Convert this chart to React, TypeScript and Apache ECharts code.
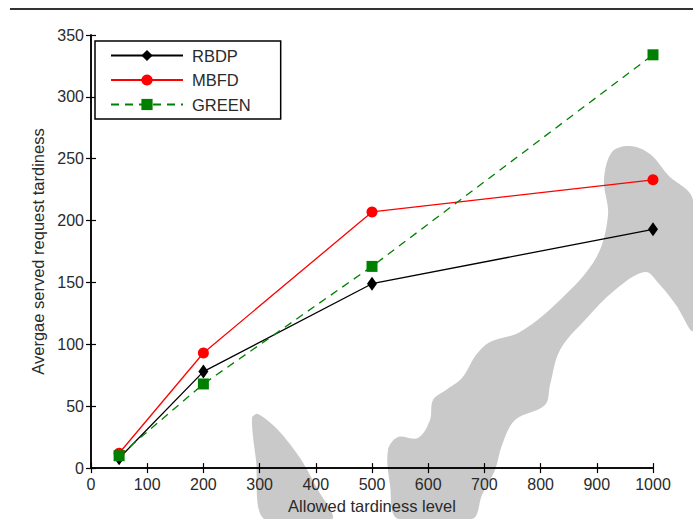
import React, { useEffect, useRef } from "react";
import * as echarts from "echarts";

const tardinessLevels = [50, 200, 500, 1000];
const rbdpValues = [8, 78, 149, 193];
const mbfdValues = [12, 93, 207, 233];
const greenValues = [10, 68, 163, 334];
const seriesNames = ["RBDP", "MBFD", "GREEN"];

const FONT = "'Liberation Sans', Arial, Helvetica, sans-serif";
const WM = "#c9c9c9";
const TXT = "#2a2a2a";

export default function App() {
  const ref = useRef<HTMLDivElement>(null);
  useEffect(() => {
    if (!ref.current) return;
    const chart = echarts.init(ref.current, undefined, { renderer: "svg" });
    const pts = (vals: number[]) => tardinessLevels.map((x, i) => [x, vals[i]]);
    const axisLine = { show: true, lineStyle: { color: "#000", width: 1.5 } };
    const tick = { show: true, inside: true, length: 5, lineStyle: { color: "#000", width: 1.2 } };
    const label = { color: TXT, fontSize: 16, fontFamily: FONT, formatter: (v: number) => String(v) };
    chart.setOption({
      animation: false,
      backgroundColor: "#fff",
      grid: { left: 91, right: 40, top: 35, bottom: 47, containLabel: false },
      xAxis: [
        {
          type: "value", min: 0, max: 1000, interval: 100,
          axisLine, axisTick: tick, splitLine: { show: false },
          axisLabel: { ...label, margin: 8 },
          name: "Allowed tardiness level", nameLocation: "middle", nameGap: 25,
          nameTextStyle: { color: TXT, fontSize: 16.5, fontFamily: FONT },
        },
        {
          type: "value", min: 0, max: 1000, interval: 100, position: "top",
          axisLine, axisTick: tick, splitLine: { show: false }, axisLabel: { show: false },
        },
      ],
      yAxis: [
        {
          type: "value", min: 0, max: 350, interval: 50,
          axisLine, axisTick: tick, splitLine: { show: false },
          axisLabel: { ...label, margin: 7 },
          name: "Avergae served request tardiness", nameLocation: "middle", nameGap: 41,
          nameTextStyle: { color: TXT, fontSize: 16.5, fontFamily: FONT },
        },
        {
          type: "value", min: 0, max: 350, interval: 50, position: "right",
          axisLine, axisTick: tick, splitLine: { show: false }, axisLabel: { show: false },
        },
      ],
      legend: {
        orient: "vertical", left: 95, top: 41, padding: [6, 30, 6, 15],
        itemGap: 7.5, itemWidth: 72, itemHeight: 14,
        borderColor: "#000", borderWidth: 1.5, backgroundColor: "#fff",
        textStyle: { fontSize: 16.5, color: TXT, fontFamily: FONT, padding: [0, 0, 0, 4] },
        data: seriesNames,
      },
      graphic: [
        { type: "line", z: -5, shape: { x1: 10, y1: 9, x2: 693, y2: 9 }, style: { stroke: "#333", lineWidth: 2 } },
        {
          type: "polygon", z: -5, shape: { smooth: 0.3, points: [
            [252, 418], [258, 414], [278, 430], [300, 458], [318, 490], [332, 519], [264, 519], [256, 460],
          ] }, style: { fill: WM },
        },
        {
          type: "polygon", z: -5, shape: { smooth: 0.35, points: [
            [612, 152], [630, 146], [650, 154], [668, 175], [693, 200], [693, 330], [676, 305],
            [660, 285], [645, 272], [615, 290], [585, 320], [560, 350], [550, 385], [545, 405],
            [515, 420], [502, 445], [495, 470], [482, 495], [472, 519],
            [398, 519], [390, 485], [388, 450], [398, 437], [418, 438], [430, 420], [433, 400], [446, 390],
            [462, 378], [476, 355], [490, 342], [520, 332], [560, 300], [596, 258], [608, 215], [604, 180],
          ] }, style: { fill: WM },
        },
      ],
      series: [
        {
          name: "RBDP", type: "line", data: pts(rbdpValues), symbol: "diamond", symbolSize: [10, 14],
          lineStyle: { color: "#000", width: 1.3 }, itemStyle: { color: "#000" }, z: 3,
        },
        {
          name: "MBFD", type: "line", data: pts(mbfdValues), symbol: "circle", symbolSize: 11,
          lineStyle: { color: "#ff0000", width: 1.3 }, itemStyle: { color: "#ff0000" }, z: 3,
        },
        {
          name: "GREEN", type: "line", data: pts(greenValues), symbol: "rect", symbolSize: 11,
          lineStyle: { color: "#008000", width: 1.3, type: [8, 6] }, itemStyle: { color: "#008000" }, z: 3,
        },
      ],
    });
    return () => chart.dispose();
  }, []);
  return (
    <div
      ref={ref}
      style={{ position: "absolute", left: 0, top: 0, width: 693, height: 519 }}
    />
  );
}
